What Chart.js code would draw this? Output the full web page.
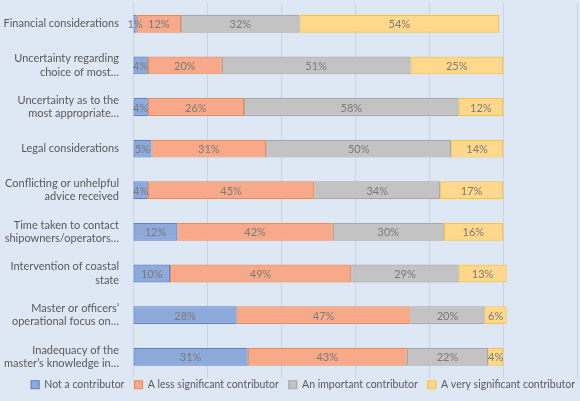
<!DOCTYPE html>
<html>
<head>
<meta charset="utf-8">
<script src="https://cdn.jsdelivr.net/npm/chart.js@4"></script>
<style>
  body { margin: 0; background: #dee8f4; }
  #wrap { width: 580px; height: 401px; position: relative; }
</style>
</head>
<body>
<div id="wrap"><canvas id="chart"></canvas></div>
<script>
const categories = [
    "Financial considerations",
    ["Uncertainty regarding", "choice of most…"],
    ["Uncertainty as to the", "most appropriate…"],
    "Legal considerations",
    ["Conflicting or unhelpful", "advice received"],
    ["Time taken to contact", "shipowners/operators…"],
    ["Intervention of coastal", "state"],
    ["Master or officers’", "operational focus on…"],
    ["Inadequacy of the", "master’s knowledge in…"]
];
const notContributor = [1, 4, 4, 5, 4, 12, 10, 28, 31];
const lessSignificant = [12, 20, 26, 31, 45, 42, 49, 47, 43];
const important = [32, 51, 58, 50, 34, 30, 29, 20, 22];
const verySignificant = [54, 25, 12, 14, 17, 16, 13, 6, 4];
const seriesNames = ["Not a contributor", "A less significant contributor", "An important contributor", "A very significant contributor"];

const fontFamily = "Lato, 'Open Sans', sans-serif";

// draws the percentage in the middle of each bar piece
const barLabels = {
    id: 'barLabels',
    afterDatasetsDraw(chart) {
        const ctx = chart.ctx;
        ctx.save();
        ctx.font = "11px " + fontFamily;
        ctx.fillStyle = "#7a7a7a";
        ctx.textAlign = "center";
        ctx.textBaseline = "middle";
        chart.data.datasets.forEach((ds, i) => {
            chart.getDatasetMeta(i).data.forEach((bar, j) => {
                const cx = (bar.x + bar.base) / 2;
                ctx.fillText(ds.data[j] + "%", cx, bar.y + 1);
            });
        });
        ctx.restore();
    }
};

function makeSet(label, data, fill, border) {
    return {
        label: label,
        data: data,
        backgroundColor: fill,
        borderColor: border,
        borderWidth: 1.2,
        borderSkipped: false,
        barPercentage: 0.43,
        categoryPercentage: 1
    };
}

new Chart(document.getElementById("chart"), {
    type: 'bar',
    data: {
        labels: categories,
        datasets: [
            makeSet(seriesNames[0], notContributor, "#8eaadb", "#5b7fc8"),
            makeSet(seriesNames[1], lessSignificant, "#f7a98a", "#ee8a55"),
            makeSet(seriesNames[2], important, "#c3c3c3", "#a8a8a8"),
            makeSet(seriesNames[3], verySignificant, "#ffd88c", "#fbc33a")
        ]
    },
    options: {
        indexAxis: 'y',
        responsive: true,
        maintainAspectRatio: false,
        animation: false,
        layout: { padding: { top: 3, right: 3, left: 0, bottom: 1 } },
        scales: {
            x: {
                stacked: true,
                min: 0,
                max: 120,
                ticks: { display: false, stepSize: 20 },
                grid: { color: "#c9d5e4", drawTicks: false },
                border: { display: false }
            },
            y: {
                stacked: true,
                grid: { display: false },
                border: { display: false },
                ticks: {
                    color: "#595959",
                    font: { family: fontFamily, size: 11 },
                    padding: 6
                },
                afterFit(scale) {
                    scale.width = 133;
                    scale.paddingTop = 0;
                    scale.paddingBottom = 0;
                }
            }
        },
        plugins: {
            tooltip: { enabled: false },
            legend: {
                position: 'bottom',
                align: 'end',
                labels: {
                    color: "#595959",
                    font: { family: fontFamily, size: 10.5 },
                    boxWidth: 8,
                    boxHeight: 8,
                    padding: 2,
                    generateLabels(chart) {
                        const items = Chart.defaults.plugins.legend.labels.generateLabels(chart);
                        // a little extra room between the items
                        items.forEach((item, i) => {
                            if (i < items.length - 1) item.text = item.text + "   ";
                        });
                        return items;
                    }
                }
            }
        }
    },
    plugins: [barLabels]
});
</script>
</body>
</html>
